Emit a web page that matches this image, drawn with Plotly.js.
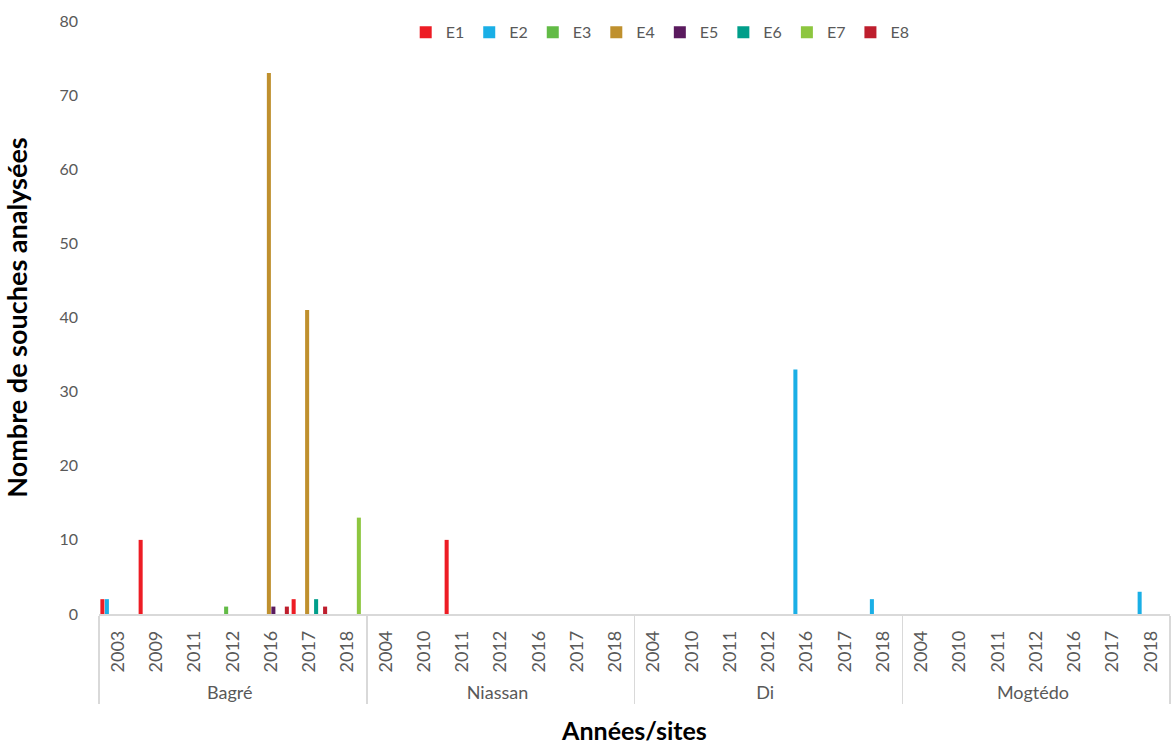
<!DOCTYPE html>
<html>
<head>
<meta charset="utf-8">
<script src="https://cdn.plot.ly/plotly-3.0.1.min.js"></script>
<style>html,body{margin:0;padding:0;background:#fff}#chart{width:1172px;height:751px}</style>
</head>
<body>
<div id="chart"></div>
<script>
const sites = ["Bagré","Bagré","Bagré","Bagré","Bagré","Bagré","Bagré",
  "Niassan","Niassan","Niassan","Niassan","Niassan","Niassan","Niassan",
  "Di","Di","Di","Di","Di","Di","Di",
  "Mogtédo","Mogtédo","Mogtédo","Mogtédo","Mogtédo","Mogtédo","Mogtédo"];
const years = ["2003","2009","2011","2012","2016","2017","2018",
  "2004","2010","2011","2012","2016","2017","2018",
  "2004","2010","2011","2012","2016","2017","2018",
  "2004","2010","2011","2012","2016","2017","2018"];
const seriesNames = ["E1","E2","E3","E4","E5","E6","E7","E8"];
const E1 = [2,10,0,0,0,2,0, 0,0,10,0,0,0,0, 0,0,0,0,0,0,0, 0,0,0,0,0,0,0];
const E2 = [2,0,0,0,0,0,0, 0,0,0,0,0,0,0, 0,0,0,0,33,0,2, 0,0,0,0,0,0,3];
const E3 = [0,0,0,1,0,0,0, 0,0,0,0,0,0,0, 0,0,0,0,0,0,0, 0,0,0,0,0,0,0];
const E4 = [0,0,0,0,73,41,0, 0,0,0,0,0,0,0, 0,0,0,0,0,0,0, 0,0,0,0,0,0,0];
const E5 = [0,0,0,0,1,0,0, 0,0,0,0,0,0,0, 0,0,0,0,0,0,0, 0,0,0,0,0,0,0];
const E6 = [0,0,0,0,0,2,0, 0,0,0,0,0,0,0, 0,0,0,0,0,0,0, 0,0,0,0,0,0,0];
const E7 = [0,0,0,0,0,0,13, 0,0,0,0,0,0,0, 0,0,0,0,0,0,0, 0,0,0,0,0,0,0];
const E8 = [0,0,0,0,1,1,0, 0,0,0,0,0,0,0, 0,0,0,0,0,0,0, 0,0,0,0,0,0,0];
const seriesValues = [E1,E2,E3,E4,E5,E6,E7,E8];
const colors = ["#ed1c24","#1aafe6","#62bb46","#bf902e","#5a1a5e","#009e8a","#8dc63f","#be1e2d"];

// Plotly orders multicategory inner labels by first appearance, so feed the
// points sorted by year (then site) so that every site keeps its own year order.
const siteOrder = ["Bagré","Niassan","Di","Mogtédo"];
const idx = years.map((_,i)=>i).sort((a,b)=>
  (+years[a]) - (+years[b]) || siteOrder.indexOf(sites[a]) - siteOrder.indexOf(sites[b]));

const traces = seriesNames.map((n,i)=>({
  type:"bar", name:n,
  x:[idx.map(k=>sites[k]), idx.map(k=>years[k])],
  y:idx.map(k=>seriesValues[i][k]),
  marker:{color:colors[i], line:{width:0}}
}));

const layout = {
  width:1172, height:751,
  margin:{l:99, r:2, t:21, b:137},
  paper_bgcolor:"#fff", plot_bgcolor:"#fff",
  barmode:"group", bargap:0.06, bargroupgap:0.1,
  font:{family:"Lato, 'Open Sans', sans-serif", color:"#595959", size:16},
  xaxis:{
    type:"multicategory", automargin:false,
    tickangle:-90, tickfont:{size:18, color:"#595959"}, ticklabelstandoff:8,
    showline:true, linecolor:"#d9d9d9", linewidth:1.5,
    showdividers:true, dividercolor:"#d9d9d9", dividerwidth:1.5,
    ticks:"", showgrid:false,
    title:{text:"<b>Années/sites</b>", font:{size:25, color:"#000"}, standoff:20}
  },
  yaxis:{
    range:[0,80], dtick:10, showgrid:false, zeroline:false, showline:false,
    tickfont:{size:16, color:"#595959"}, ticks:"", ticklabelstandoff:20, automargin:false,
    title:{text:"<b>Nombre de souches analysées</b>", font:{size:27, color:"#000"}, standoff:23}
  },
  legend:{orientation:"h", x:0.524, xanchor:"center", y:0.981, yanchor:"middle",
    font:{size:16, color:"#595959"},
    bgcolor:"rgba(0,0,0,0)", traceorder:"normal"},
  showlegend:true
};
Plotly.newPlot("chart", traces, layout, {displayModeBar:false, staticPlot:true});
</script>
</body>
</html>
